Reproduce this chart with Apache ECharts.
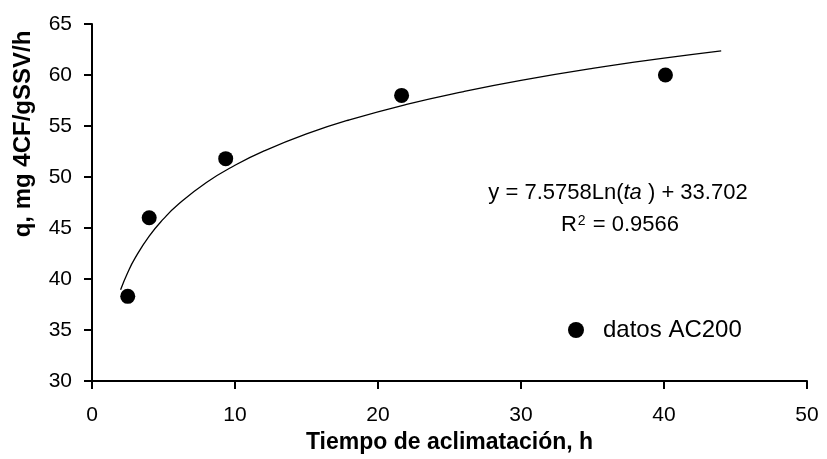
<!DOCTYPE html>
<html><head><meta charset="utf-8">
<script src="https://cdn.jsdelivr.net/npm/echarts@6/dist/echarts.min.js"></script>
<style>html,body{margin:0;padding:0;background:#fff}#c{width:827px;height:459px}</style>
</head><body><div id="c"></div>
<script>
const seriesName = 'datos AC200';
const tiempo = [2.5, 4.0, 9.35, 21.65, 40.1];
const q = [38.3, 46.0, 51.8, 58.0, 60.0];
// logarithmic trend line as drawn in the picture
const trendX = [2, 2.5, 3, 4, 5, 6, 8, 10, 12, 15, 18, 22, 26, 30, 35, 40, 44];
const trendY = [38.95, 40.64, 42.02, 44.20, 45.89, 47.28, 49.46, 51.15, 52.53, 54.22, 55.60, 57.12, 58.38, 59.47, 60.64, 61.65, 62.37];
const xTicks = [0, 10, 20, 30, 40, 50];
const yTicks = [30, 35, 40, 45, 50, 55, 60, 65];
const xTitle = 'Tiempo de aclimatación, h';
const yTitle = 'q, mg 4CF/gSSV/h';
const eqText = ['y = 7.5758Ln(', 'ta', ' ) + 33.702'];
const r2Text = ['R', '2', ' = 0.9566'];

const FONT = "'Liberation Sans', Arial, sans-serif";
const chart = echarts.init(document.getElementById('c'), null, {renderer: 'canvas'});
chart.setOption({
  animation: false,
  backgroundColor: '#fff',
  grid: {left: 92, right: 20, top: 24, bottom: 78, containLabel: false},
  xAxis: {
    type: 'value', min: xTicks[0], max: xTicks[xTicks.length - 1], interval: xTicks[1] - xTicks[0],
    name: xTitle, nameLocation: 'middle', nameGap: 46,
    nameTextStyle: {fontFamily: FONT, fontWeight: 'bold', fontSize: 23, color: '#000'},
    axisLine: {show: true, onZero: false, lineStyle: {color: '#000', width: 2}},
    axisTick: {show: true, inside: false, length: 8, lineStyle: {color: '#000', width: 2}},
    axisLabel: {fontFamily: FONT, fontSize: 21, color: '#000', margin: 24},
    splitLine: {show: false}
  },
  yAxis: {
    type: 'value', min: yTicks[0], max: yTicks[yTicks.length - 1], interval: yTicks[1] - yTicks[0],
    axisLine: {show: true, onZero: false, lineStyle: {color: '#000', width: 2}},
    axisTick: {show: true, inside: false, length: 8, lineStyle: {color: '#000', width: 2}},
    axisLabel: {fontFamily: FONT, fontSize: 21, color: '#000', margin: 20},
    splitLine: {show: false}
  },
  legend: {
    data: [seriesName], left: 563, top: 313, orient: 'vertical',
    itemWidth: 16, itemHeight: 16, icon: 'circle',
    itemStyle: {color: '#000', opacity: 1},
    textStyle: {fontFamily: FONT, fontSize: 24, color: '#000', padding: [0, 0, 0, 14]}
  },
  series: [
    {
      name: 'trend', type: 'line', data: trendX.map((x, i) => [x, trendY[i]]),
      smooth: true, showSymbol: false, symbol: 'none',
      lineStyle: {color: '#000', width: 1.3}, silent: true, z: 2
    },
    {
      name: seriesName, type: 'scatter', data: tiempo.map((x, i) => [x, q[i]]),
      symbol: 'circle', symbolSize: 15, itemStyle: {color: '#000', opacity: 1}, z: 3
    }
  ],
  graphic: [
    {
      type: 'text', x: 23, y: 134, rotation: Math.PI / 2,
      style: {text: yTitle, fill: '#000', font: "bold 24px 'Liberation Sans', Arial, sans-serif", align: 'center', verticalAlign: 'middle'}
    },
    {
      type: 'text', x: 618, y: 193,
      style: {
        text: '{a|' + eqText[0] + '}{i|' + eqText[1] + '}{a|' + eqText[2] + '}',
        align: 'center', verticalAlign: 'middle',
        rich: {
          a: {fontFamily: FONT, fontSize: 22, fill: '#000', color: '#000'},
          i: {fontFamily: FONT, fontSize: 22, fontStyle: 'italic', fill: '#000', color: '#000'}
        }
      }
    },
    {
      type: 'text', x: 620, y: 225,
      style: {
        text: '{a|' + r2Text[0] + '}{s|' + r2Text[1] + '}{a|' + r2Text[2] + '}',
        align: 'center', verticalAlign: 'middle',
        rich: {
          a: {fontFamily: FONT, fontSize: 22, fill: '#000', color: '#000'},
          s: {fontFamily: FONT, fontSize: 14, fill: '#000', color: '#000', verticalAlign: 'top', lineHeight: 14, padding: [0, 1, 14, 1]}
        }
      }
    }
  ]
});
</script></body></html>
